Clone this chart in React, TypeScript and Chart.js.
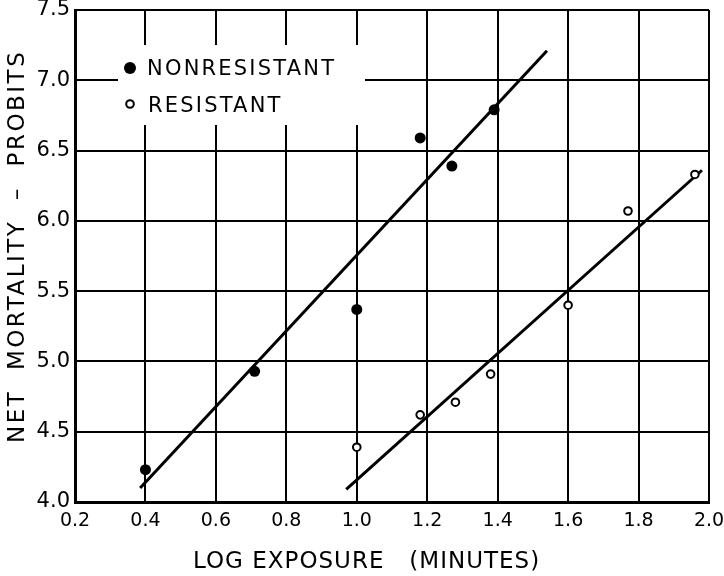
import React, { useEffect, useRef } from 'react';
import { Chart, registerables } from 'chart.js';

Chart.register(...registerables);

// ---- data ----
const nonresistantX = [0.40, 0.71, 1.00, 1.18, 1.27, 1.39];
const nonresistantY = [4.23, 4.93, 5.37, 6.59, 6.39, 6.79];
const resistantX = [1.00, 1.18, 1.28, 1.38, 1.60, 1.77, 1.96];
const resistantY = [4.39, 4.62, 4.71, 4.91, 5.40, 6.07, 6.33];
const nonresistantFitX = [0.385, 1.54];
const nonresistantFitY = [4.10, 7.21];
const resistantFitX = [0.97, 1.98];
const resistantFitY = [4.09, 6.36];

const legendLabels = ['NONRESISTANT', 'RESISTANT'];
const xTitle = 'LOG EXPOSURE   (MINUTES)';
const yTitle = 'NET  MORTALITY  –  PROBITS';
const xMin = 0.2, xMax = 2.0, xStep = 0.2;
const yMin = 4.0, yMax = 7.5, yStep = 0.5;

const FONT = '"DejaVu Sans", "Liberation Sans", sans-serif';

const zip = (xs: number[], ys: number[]) => xs.map((x, i) => ({ x, y: ys[i] }));

const decorPlugin = {
  id: 'decor',
  beforeDatasetsDraw(chart: any) {
    const ctx = chart.ctx;
    ctx.save();
    ctx.fillStyle = '#fff';
    ctx.fillRect(118, 45, 247, 80);
    ctx.restore();
  },
  afterDraw(chart: any) {
    const ctx = chart.ctx;
    ctx.save();
    ctx.fillStyle = '#000';
    ctx.strokeStyle = '#000';
    // legend
    ctx.font = `21px ${FONT}`;
    (ctx as any).letterSpacing = '2.2px';
    ctx.textAlign = 'left';
    ctx.textBaseline = 'alphabetic';
    ctx.beginPath();
    ctx.arc(130, 68, 6, 0, Math.PI * 2);
    ctx.fill();
    ctx.fillText(legendLabels[0], 147, 75);
    ctx.beginPath();
    ctx.lineWidth = 2;
    ctx.arc(130, 104, 3.8, 0, Math.PI * 2);
    ctx.stroke();
    ctx.fillText(legendLabels[1], 148, 112);
    // x axis title
    ctx.font = `23px ${FONT}`;
    (ctx as any).letterSpacing = '1px';
    ctx.fillText(xTitle, 193, 568);
    // y axis title
    (ctx as any).letterSpacing = '2.5px';
    ctx.translate(23.5, 443);
    ctx.rotate(-Math.PI / 2);
    ctx.textAlign = 'left';
    ctx.fillText(yTitle, 0, 0);
    ctx.restore();
  },
};

export default function App() {
  const ref = useRef<HTMLCanvasElement | null>(null);
  useEffect(() => {
    if (!ref.current) return;
    const chart = new Chart(ref.current, {
      type: 'scatter',
      data: {
        datasets: [
          {
            type: 'line',
            label: 'fit nonresistant',
            data: zip(nonresistantFitX, nonresistantFitY),
            borderColor: '#000',
            borderWidth: 3,
            pointRadius: 0,
            fill: false,
            order: 3,
          } as any,
          {
            type: 'line',
            label: 'fit resistant',
            data: zip(resistantFitX, resistantFitY),
            borderColor: '#000',
            borderWidth: 3,
            pointRadius: 0,
            fill: false,
            order: 3,
          } as any,
          {
            label: legendLabels[0],
            data: zip(nonresistantX, nonresistantY),
            backgroundColor: '#000',
            borderColor: '#000',
            borderWidth: 0,
            pointRadius: 5.5,
            order: 1,
          },
          {
            label: legendLabels[1],
            data: zip(resistantX, resistantY),
            backgroundColor: '#fff',
            borderColor: '#000',
            borderWidth: 2,
            pointRadius: 3.8,
            order: 2,
          },
        ],
      },
      options: {
        animation: false,
        responsive: false,
        devicePixelRatio: 1,
        layout: { padding: { top: 10, right: 15, left: 0, bottom: 0 } },
        plugins: { legend: { display: false }, tooltip: { enabled: false } },
        scales: {
          x: {
            type: 'linear',
            min: xMin,
            max: xMax,
            afterFit: (s: any) => { s.height = 74; s.paddingLeft = 0; s.paddingRight = 0; },
            ticks: {
              stepSize: xStep,
              padding: 8,
              color: '#000',
              font: { family: FONT, size: 19 },
              callback: (v: any) => Number(v).toFixed(1),
            },
            grid: { color: '#000', lineWidth: 2, drawTicks: false },
            border: { display: true, color: '#000', width: 3 },
          },
          y: {
            type: 'linear',
            min: yMin,
            max: yMax,
            afterFit: (s: any) => { s.width = 75; s.paddingTop = 0; s.paddingBottom = 0; },
            ticks: {
              stepSize: yStep,
              padding: 5,
              color: '#000',
              font: { family: FONT, size: 21 },
              callback: (v: any) => Number(v).toFixed(1),
            },
            grid: { color: '#000', lineWidth: 2, drawTicks: false },
            border: { display: true, color: '#000', width: 3 },
          },
        },
      },
      plugins: [decorPlugin],
    });
    return () => chart.destroy();
  }, []);
  return (
    <div style={{ position: 'fixed', left: 0, top: 0, width: 724, height: 576, background: '#fff' }}>
      <canvas ref={ref} width={724} height={576} />
    </div>
  );
}
